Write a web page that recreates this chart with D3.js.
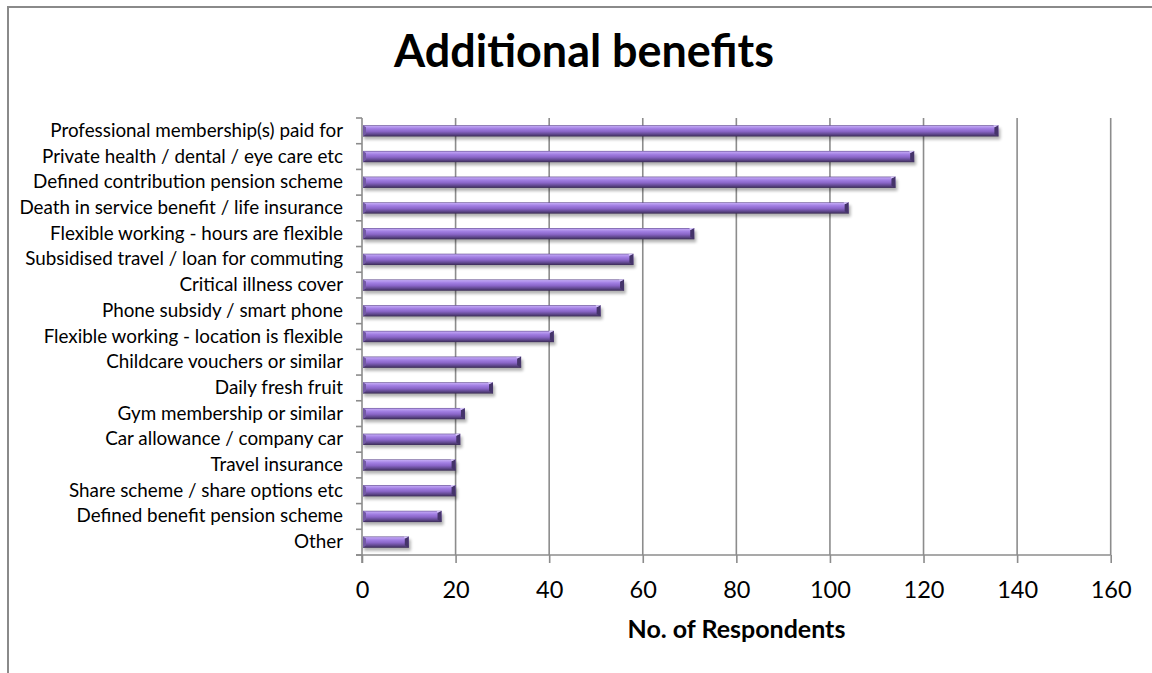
<!DOCTYPE html>
<html><head><meta charset="utf-8">
<script src="https://cdn.jsdelivr.net/npm/d3@7"></script>
<style>
html,body{margin:0;padding:0;background:#fff;}
svg{display:block;font-family:Lato,"Open Sans",sans-serif;}
</style></head>
<body>
<svg id="chart" width="1152" height="673"></svg>
<script>
const categories = [
  "Professional membership(s) paid for",
  "Private health / dental / eye care etc",
  "Defined contribution pension scheme",
  "Death in service benefit / life insurance",
  "Flexible working - hours are flexible",
  "Subsidised travel / loan for commuting",
  "Critical illness cover",
  "Phone subsidy / smart phone",
  "Flexible working - location is flexible",
  "Childcare vouchers or similar",
  "Daily fresh fruit",
  "Gym membership or similar",
  "Car allowance / company car",
  "Travel insurance",
  "Share scheme / share options etc",
  "Defined benefit pension scheme",
  "Other"
];
const respondents = [136, 118, 114, 104, 71, 58, 56, 51, 41, 34, 28, 22, 21, 20, 20, 17, 10];
const xTicks = [0, 20, 40, 60, 80, 100, 120, 140, 160];
const titleText = "Additional benefits";
const xAxisTitle = "No. of Respondents";

const svg = d3.select("#chart");
const W = 1152, H = 673;
const plot = {left: 362, right: 1110.7, top: 118, bottom: 555};

// frame
svg.append("path").attr("d", `M8,${H} L8,7 L${W},7`).attr("fill","none")
  .attr("stroke","#8a8a8a").attr("stroke-width",2);

const x = d3.scaleLinear().domain([0,160]).range([plot.left, plot.right]);
const y = d3.scaleBand().domain(categories).range([plot.top, plot.bottom]).paddingInner(0.56).paddingOuter(0.28);
const yb = d3.scaleBand().domain(categories).range([plot.top, plot.bottom]);

const defs = svg.append("defs");
const g = defs.append("linearGradient").attr("id","barGrad").attr("x1",0).attr("y1",0).attr("x2",0).attr("y2",1);
[[0,"#5f4a8c"],[0.1,"#bea3f2"],[0.3,"#a27fe3"],[0.55,"#8a66c8"],[0.78,"#634a92"],[1,"#3a2b55"]]
  .forEach(([o,c])=>g.append("stop").attr("offset",o).attr("stop-color",c));
const f = defs.append("filter").attr("id","shadow").attr("x","-10%").attr("y","-50%").attr("width","130%").attr("height","250%");
f.append("feGaussianBlur").attr("stdDeviation",1.6);

// gridlines
svg.append("g").selectAll("line").data(xTicks.filter(d=>d>0)).join("line")
  .attr("x1",d=>x(d)).attr("x2",d=>x(d)).attr("y1",plot.top).attr("y2",plot.bottom)
  .attr("stroke","#8c8c8c").attr("stroke-width",1.6);

// x axis
const xAxis = svg.append("g").attr("transform",`translate(0,${plot.bottom})`)
  .call(d3.axisBottom(x).tickValues(xTicks).tickSize(8).tickPadding(15).tickFormat(d3.format("d")));
xAxis.select(".domain").remove();
xAxis.append("line").attr("x1",plot.left-6).attr("x2",plot.right).attr("stroke","#8c8c8c").attr("stroke-width",1.6);
xAxis.selectAll(".tick line").attr("stroke","#8c8c8c").attr("stroke-width",1.6);
const tickTexts = xAxis.selectAll(".tick text").attr("fill","#000").attr("font-family","Lato,sans-serif")
  .attr("dy",null).attr("y",43).attr("font-size",22);

// y axis
const yAxisG = svg.append("g");
yAxisG.append("line").attr("x1",plot.left).attr("x2",plot.left).attr("y1",plot.top).attr("y2",plot.bottom+8)
  .attr("stroke","#8c8c8c").attr("stroke-width",1.6);
const bounds = categories.map(c=>yb(c)).concat([plot.bottom]);
yAxisG.selectAll("line.yt").data(bounds).join("line").attr("class","yt")
  .attr("x1",plot.left-6).attr("x2",plot.left).attr("y1",d=>d).attr("y2",d=>d)
  .attr("stroke","#8c8c8c").attr("stroke-width",1.6);
const labels = yAxisG.selectAll("text").data(categories).join("text")
  .attr("x",343).attr("y",d=>yb(d)+yb.bandwidth()/2+6).attr("text-anchor","end")
  .attr("font-size",18).attr("fill","#000").text(d=>d);

// bars
const data = categories.map((c,i)=>({c, v: respondents[i]}));
const bars = svg.append("g").selectAll("g").data(data).join("g");
bars.append("rect").attr("x",x(0)+2).attr("y",d=>y(d.c)+3).attr("width",d=>x(d.v)-x(0)).attr("height",y.bandwidth())
  .attr("fill","#000").attr("opacity",0.3).attr("filter","url(#shadow)");
bars.append("rect").attr("x",x(0)+1).attr("y",d=>y(d.c)).attr("width",d=>x(d.v)-x(0)-1).attr("height",y.bandwidth())
  .attr("fill","url(#barGrad)");
// bevel end caps
bars.append("path").attr("d",d=>{const xe=x(d.v), t=y(d.c), h=y.bandwidth();
  return `M${xe-4},${t+2} L${xe},${t} L${xe},${t+h} L${xe-4},${t+h-2.5} Z`;})
  .attr("fill","#45346a");
bars.append("path").attr("d",d=>{const xe=x(d.v), t=y(d.c);
  return `M${xe-4},${t+2} L${xe},${t} L${xe-5},${t} Z`;}).attr("fill","#d8c8fa");
bars.append("path").attr("d",d=>{const xs=x(0)+1, t=y(d.c), h=y.bandwidth();
  return `M${xs},${t} L${xs+3},${t+2} L${xs+3},${t+h-2.5} L${xs},${t+h} Z`;}).attr("fill","#735aa5");

// title
const title = svg.append("text").attr("x",584).attr("y",67).attr("text-anchor","middle")
  .attr("font-weight","bold").attr("font-size",36).attr("fill","#000").text(titleText);
const axTitle = svg.append("text").attr("x",736.5).attr("y",638).attr("text-anchor","middle")
  .attr("font-weight","bold").attr("font-size",20).attr("fill","#000").text(xAxisTitle);

// fit text widths to the reference's measured widths
function fit(sel, target){
  const n = sel.node(); const fs = +sel.attr("font-size");
  const w = n.getComputedTextLength(); sel.attr("font-size", fs*target/w);
}
fit(title, 380);
fit(axTitle, 218);
const longest = labels.filter((d,i)=>i===0);
const fs0 = +longest.attr("font-size"); const w0 = longest.node().getComputedTextLength();
labels.attr("font-size", fs0*293/w0);
const t100 = tickTexts.filter(d=>d===100);
const tf = +t100.attr("font-size"); const tw = t100.node().getComputedTextLength();
tickTexts.attr("font-size", tf*41/tw);
</script>
</body></html>
